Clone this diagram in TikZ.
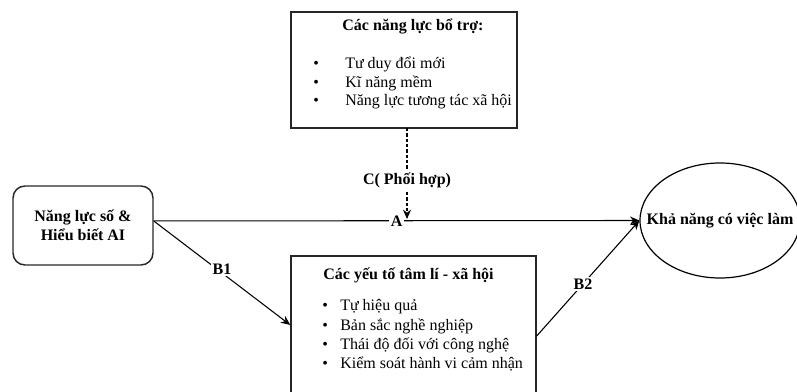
\documentclass[tikz,border=0pt]{standalone}
\usepackage{fontspec}
\setmainfont{Liberation Serif}
\usetikzlibrary{arrows.meta,shapes.geometric}

\begin{document}
\begin{tikzpicture}[x=0.75pt, y=-0.75pt, font=\fontsize{12}{14}\selectfont,
		box/.style={draw=black!85, line width=1.1pt, inner sep=0pt},
		lbl/.style={fill=white, inner sep=1.5pt, font=\fontsize{12}{14}\selectfont\bfseries},
		txt/.style={anchor=west, inner sep=0pt, text height=1.6ex, text depth=0.3ex},
		arr/.style={-{Stealth[length=7pt,width=6pt]}, line width=0.8pt}]
			\useasboundingbox (0,0) rectangle (797,392);
			% boxes
			\node[box, minimum width=169.5pt, minimum height=87pt] (supp) at (404,70) {};
			\node[box, rounded corners=9pt, minimum width=105pt, minimum height=59.25pt, align=center, font=\fontsize{12}{14}\selectfont\bfseries] (dig) at (83,225.5) {Năng lực số \&\\Hiểu biết AI};
			\node[box, minimum width=183.75pt, minimum height=108pt] (psy) at (413.5,328) {};
			\node[draw, ellipse, line width=0.9pt, minimum width=120pt, minimum height=86.25pt, inner sep=0pt] (emp) at (720,220.5) {};
			\node[font=\fontsize{12}{14}\selectfont\bfseries] (empt) at (emp.center) {Khả năng có việc làm};
			% top box text
			\node[font=\fontsize{12}{14}\selectfont\bfseries] (supph) at (413,26) {Các năng lực bổ trợ:};
			\node[txt] (sb1) at (313,65) {\textbullet};
			\node[txt] (sb2) at (313,84) {\textbullet};
			\node[txt] (sb3) at (313,102) {\textbullet};
			\node[txt] (s1) at (345,65) {Tư duy đổi mới};
			\node[txt] (s2) at (345,84) {Kĩ năng mềm};
			\node[txt] (s3) at (345,102) {Năng lực tương tác xã hội};
			% bottom box text
			\node[font=\fontsize{12}{14}\selectfont\bfseries] (psyh) at (408.5,275) {Các yếu tố tâm lí - xã hội};
			\node[txt] (pb1) at (322,307) {\textbullet};
			\node[txt] (pb2) at (322,327) {\textbullet};
			\node[txt] (pb3) at (322,346) {\textbullet};
			\node[txt] (pb4) at (322,365) {\textbullet};
			\node[txt] (p1) at (340,307) {Tự hiệu quả};
			\node[txt] (p2) at (340,327) {Bản sắc nghề nghiệp};
			\node[txt] (p3) at (340,346) {Thái độ đối với công nghệ};
			\node[txt] (p4) at (340,365) {Kiểm soát hành vi cảm nhận};
			% end points
			\coordinate (digout) at ([yshift=3.4pt]dig.east);
			\coordinate (psyin) at ([yshift=2.25pt]psy.west);
			\coordinate (psyout) at ([yshift=-6pt]psy.east);
			\coordinate (ctop) at (407,128);
			\coordinate (cend) at (407,219);
			% arrows
			\draw[arr] (digout) -- (emp.west) node[lbl, pos=0.5] {A};
			\draw[arr] (digout) -- (psyin) node[lbl, pos=0.5, yshift=3pt] {B1};
			\draw[arr] (psyout) -- (emp.west) node[lbl, pos=0.45] {B2};
			\draw[arr, dash pattern=on 2.5pt off 1.5pt] (ctop) -- (cend) node[lbl, pos=0.58] {C( Phối hợp)};
\end{tikzpicture}
\end{document}
